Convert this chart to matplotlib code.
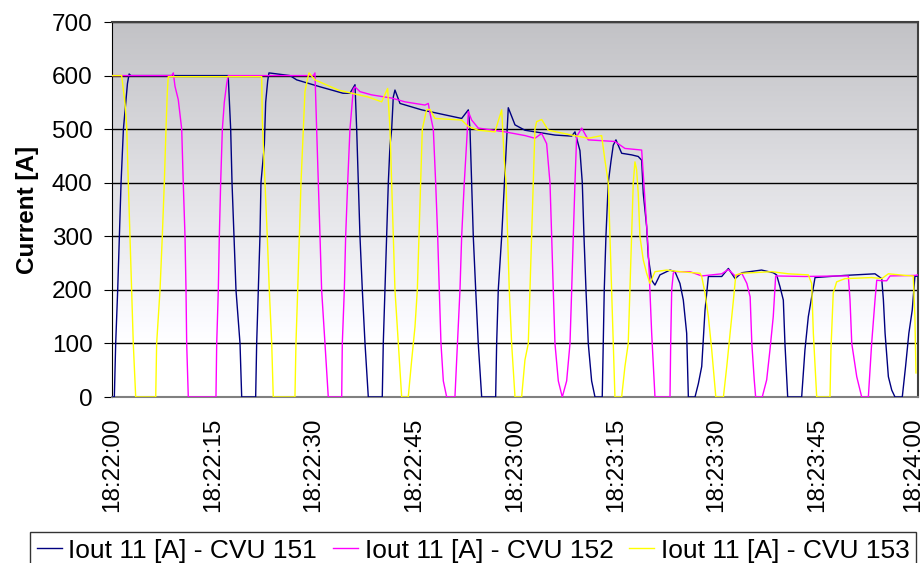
import numpy as np
import matplotlib
matplotlib.use("Agg")
import matplotlib.pyplot as plt
import matplotlib.transforms as mtransforms

plt.rcParams['font.family'] = ['Liberation Sans', 'DejaVu Sans']

# seconds after 18:22:00
t_151 = [0, 0.35, 0.55, 0.85, 1.1, 1.35, 1.7, 2.3, 2.55, 2.8,
         17.3, 17.67, 17.87, 18.16, 18.46, 19.06, 19.31, 21.39, 21.54, 21.79, 22.03, 22.18,
         22.68, 22.88, 23.18, 23.37, 26.5, 27.5, 31.0, 34.4, 35.43, 36.18, 36.43, 36.67, 36.92,
         37.27, 37.67, 38.16, 40.24, 40.39, 40.64, 40.89, 41.14, 41.39, 41.64, 41.88, 42.13,
         42.88, 46.11, 52.06, 53.05, 53.3, 53.55, 53.79, 54.15, 54.53, 55.04, 57.12, 57.27,
         57.51, 58.02, 58.51, 58.76, 59.0, 60.0, 61.48, 65.95, 68.44, 68.93, 69.67, 70.02,
         70.27, 70.57, 70.91, 71.41, 71.91, 72.99, 73.14, 73.29, 73.54, 73.89, 74.29, 74.63,
         75.03, 75.88, 77.37, 78.35, 78.86, 79.1, 79.6, 79.84, 80.35, 80.84, 81.58, 83.08,
         83.82, 84.56, 85.06, 85.56, 85.81, 86.8, 87.3, 87.8, 88.29, 88.79, 90.78, 91.77,
         92.77, 93.77, 96.71, 98.45, 98.95, 99.45, 99.95, 100.19, 100.6, 102.68, 103.17,
         103.67, 104.17, 104.67, 109.1, 113.6, 114.6, 114.85, 115.1, 115.59, 116.09, 116.58,
         117.66, 118.15, 118.64, 119.14, 119.54, 120]
i_151 = [0, 0, 100, 200, 300, 400, 500, 585, 603, 600,
         600, 500, 400, 300, 200, 100, 0, 0, 100, 200, 300, 400,
         470, 550, 590, 605, 600, 592, 579, 567, 567, 583, 500, 400, 300,
         200, 100, 0, 0, 100, 200, 300, 400, 470, 500, 560, 573,
         548, 536, 520, 536, 500, 400, 300, 200, 100, 0, 0, 100,
         200, 300, 420, 480, 540, 508, 498, 489, 487, 495, 460, 400,
         300, 200, 100, 30, 0, 0, 100, 200, 300, 400, 440, 470,
         480, 455, 452, 449, 442, 380, 318, 262, 218, 209, 228, 237,
         234, 212, 181, 119, 0, 0, 25, 57, 162, 225, 225, 240,
         221, 232, 237, 232, 228, 206, 181, 100, 0, 0, 88,
         150, 187, 223, 227, 230, 221, 181, 119, 38, 13, 0,
         0, 57, 119, 162, 225, 226]

t_152 = [0, 8.9, 9.13, 9.38, 9.87, 10.38, 10.61, 10.87, 11.02, 11.12, 11.36, 15.48, 15.59,
         15.83, 15.98, 16.18, 16.43, 16.72, 17.08, 17.31, 30.0, 30.22, 30.47, 30.72, 30.97,
         31.21, 31.71, 32.2, 34.2, 34.29, 34.59, 34.79, 35.09, 35.43, 35.93, 36.18, 36.92,
         38.66, 41.64, 43.62, 46.6, 47.09, 47.34, 47.84, 48.19, 48.49, 48.73, 48.98, 49.33,
         49.83, 51.06, 51.32, 51.81, 52.06, 52.45, 52.8, 53.05, 53.55, 54.53, 58.5, 61.5,
         62.97, 63.97, 64.71, 65.21, 65.46, 65.7, 65.95, 66.45, 67.04, 67.69, 68.19, 68.44,
         68.68, 68.93, 69.18, 69.93, 70.91, 74.88, 76.37, 78.86, 79.35, 79.84, 80.35, 80.84,
         83.08, 83.18, 83.33, 83.57, 83.82, 86.06, 87.8, 90.78, 91.77, 92.77, 93.77, 94.52,
         95.01, 95.26, 95.62, 95.83, 96.81, 97.47, 97.96, 98.45, 98.81, 103.17, 108.14,
         109.63, 109.88, 110.14, 110.88, 111.62, 112.61, 113.1, 113.6, 113.86, 114.6, 115.34,
         115.84, 119.54, 120]
i_152 = [600, 600, 605, 580, 555, 500, 400, 300, 200, 100, 0, 0, 100,
         200, 300, 400, 500, 550, 585, 600, 600, 605, 500, 400, 300,
         200, 100, 0, 0, 100, 200, 300, 400, 500, 575, 579, 570,
         564, 558, 551, 545, 548, 530, 500, 400, 300, 200, 100, 30,
         0, 0, 70, 200, 300, 400, 475, 533, 517, 502, 495, 488,
         483, 492, 473, 400, 300, 200, 100, 30, 0, 30, 100, 200,
         300, 400, 486, 502, 480, 477, 464, 461, 368, 274, 119, 0,
         0, 100, 200, 231, 234, 234, 226, 230, 238, 226, 231, 212,
         187, 100, 32, 0, 0, 32, 88, 150, 226, 225, 226,
         226, 181, 100, 38, 0, 0, 100, 181, 218, 217, 217,
         226, 227, 228]

t_153 = [0, 1.44, 1.94, 2.19, 2.43, 2.68, 2.93, 3.17, 3.53, 6.51, 6.65, 7.15, 7.49, 7.79,
         8.04, 8.24, 8.38, 22.29, 22.38, 22.78, 23.12, 23.42, 23.78, 24.01, 27.24, 27.39,
         27.65, 27.89, 28.14, 28.48, 28.73, 29.08, 29.33, 30.22, 33.69, 35.69, 38.16, 40.15,
         41.04, 41.39, 41.64, 41.88, 42.13, 42.63, 43.13, 44.11, 44.62, 45.11, 45.46, 45.71,
         45.95, 46.2, 46.83, 47.34, 48.09, 52.06, 53.05, 54.53, 57.02, 58.02, 58.41, 58.66,
         58.91, 59.15, 59.5, 60.0, 60.99, 61.48, 61.98, 62.23, 62.48, 62.72, 62.97, 63.22,
         63.97, 64.96, 68.44, 70.91, 72.9, 73.39, 73.89, 74.14, 74.39, 74.63, 74.88, 75.88,
         76.37, 76.86, 77.11, 77.37, 77.61, 77.86, 78.11, 78.35, 78.6, 79.1, 79.6, 80.09,
         80.84, 82.58, 84.56, 87.55, 87.8, 88.29, 88.79, 89.29, 89.9, 91.03, 91.53, 92.03,
         92.52, 92.88, 93.77, 98.21, 100.69, 103.67, 104.17, 104.42, 104.92, 106.9, 107.04,
         107.38, 107.89, 109.13, 113.1, 114.6, 115.59, 118.15, 119.29, 119.54, 119.7]
i_153 = [600, 600, 548, 505, 400, 300, 200, 100, 0, 0, 100, 200, 300, 400,
         500, 570, 598, 598, 517, 400, 300, 200, 100, 0, 0, 100,
         200, 300, 400, 500, 570, 592, 605, 592, 573, 567, 560, 551,
         576, 500, 400, 300, 200, 100, 0, 0, 69, 131, 200, 300,
         400, 500, 536, 537, 520, 517, 505, 498, 495, 536, 442, 400,
         300, 200, 100, 0, 0, 69, 100, 200, 300, 400, 500, 514,
         518, 498, 489, 483, 488, 442, 400, 300, 200, 100, 0, 0,
         57, 100, 200, 300, 400, 439, 424, 380, 300, 256, 231, 212,
         234, 237, 234, 231, 225, 194, 150, 88, 0, 0, 57, 119,
         181, 228, 231, 234, 230, 228, 212, 119, 0, 0, 88,
         194, 215, 221, 223, 221, 230, 227, 226, 150, 45]

series = [("Iout 11 [A] - CVU 151", t_151, i_151, "#000080"),
          ("Iout 11 [A] - CVU 152", t_152, i_152, "#FF00FF"),
          ("Iout 11 [A] - CVU 153", t_153, i_153, "#FFFF00")]

tick_secs = [0, 15, 30, 45, 60, 75, 90, 105, 120]
tick_labels = ["18:22:00", "18:22:15", "18:22:30", "18:22:45", "18:23:00",
               "18:23:15", "18:23:30", "18:23:45", "18:24:00"]

fig = plt.figure(figsize=(9.24, 5.63), dpi=100)
ax = fig.add_axes([0.1212, 0.2948, 0.8723, 0.6661])

# gray-to-white background, darkest at the top
levels = np.linspace(700, 0, 300)
grad = np.clip(1.0 - (levels - 100) / 600 * 0.24, 0.76, 1.0)
img = np.stack([grad, grad, np.clip(grad + 0.015, 0, 1)], axis=-1)[:, None, :]
img = np.repeat(img, 2, axis=1)
ax.imshow(img, extent=[0, 120, 0, 700], aspect='auto', zorder=0)

for y in range(100, 701, 100):
    ax.axhline(y, color='black', lw=1, zorder=1)

for name, t, cur, col in series:
    ax.plot(t, cur, color=col, lw=1, label=name, zorder=3)

ax.set_xlim(0, 120)
ax.set_ylim(0, 700)
ax.set_yticks(range(0, 701, 100))
ax.set_xticks(tick_secs)
ax.set_xticklabels(tick_labels, rotation=90)
ax.tick_params(axis='y', labelsize=17.5, length=6, direction='out', pad=8)
ax.tick_params(axis='x', labelsize=17.5, length=0, pad=15)
ax.set_ylabel("Current [A]", fontsize=17.5, fontweight='bold', labelpad=9)

# last date label sits a little inside the figure edge
last = ax.get_xticklabels()[-1]
last.set_transform(last.get_transform() +
                   mtransforms.ScaledTranslation(-5 / 100, 0, fig.dpi_scale_trans))

ax.spines['left'].set_color('black')
ax.spines['bottom'].set_color('#808080')
ax.spines['bottom'].set_linewidth(1.5)
ax.spines['top'].set_color('#404040')
ax.spines['right'].set_color('#404040')
ax.spines['top'].set_linewidth(1.5)
ax.spines['right'].set_linewidth(1.5)

leg = fig.legend(loc='upper left', bbox_to_anchor=(30 / 924, 1 - 532 / 563), ncol=3,
                 fontsize=19, frameon=True, fancybox=False, edgecolor='black',
                 handlelength=0.95, handletextpad=0.25, columnspacing=0.6,
                 borderpad=0.25, borderaxespad=0)
leg.get_frame().set_linewidth(1)

fig.savefig("out.png", dpi=100)
